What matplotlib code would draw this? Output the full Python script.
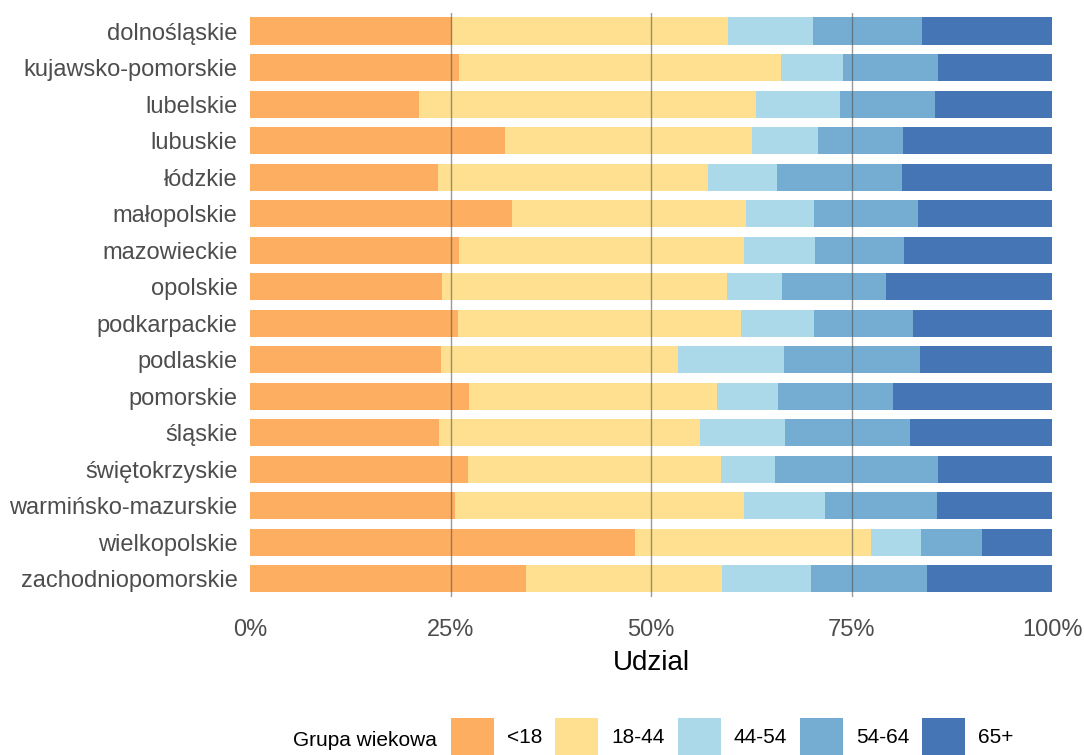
import numpy as np
import matplotlib
matplotlib.use('Agg')
import matplotlib.pyplot as plt
from matplotlib.patches import Patch
from matplotlib.ticker import PercentFormatter

# dane: udzial grup wiekowych (%) w wojewodztwach
wojewodztwa = [
    "dolnośląskie", "kujawsko-pomorskie", "lubelskie", "lubuskie", "łódzkie",
    "małopolskie", "mazowieckie", "opolskie", "podkarpackie", "podlaskie",
    "pomorskie", "śląskie", "świętokrzyskie", "warmińsko-mazurskie",
    "wielkopolskie", "zachodniopomorskie",
]
grupy = ["<18", "18-44", "44-54", "54-64", "65+"]

u18 = [25.2, 26.1, 21.1, 31.8, 23.4, 32.7, 26.1, 23.9, 25.9, 23.8, 27.3, 23.6, 27.2, 25.6, 48.0, 34.4]
g18_44 = [34.4, 40.1, 42.0, 30.8, 33.7, 29.1, 35.5, 35.6, 35.3, 29.6, 30.9, 32.5, 31.5, 36.0, 29.4, 24.5]
g44_54 = [10.6, 7.7, 10.5, 8.2, 8.6, 8.5, 8.8, 6.8, 9.1, 13.2, 7.6, 10.6, 6.8, 10.1, 6.3, 11.1]
g54_64 = [13.6, 11.9, 11.8, 10.6, 15.6, 13.0, 11.1, 13.0, 12.4, 16.9, 14.4, 15.6, 20.3, 14.0, 7.6, 14.4]
g65 = [100 - a - b - c - d for a, b, c, d in zip(u18, g18_44, g44_54, g54_64)]

kolory = ["#FDAE61", "#FEE090", "#ABD9E9", "#74ADD1", "#4575B4"]
font = "Liberation Sans"

fig = plt.figure(figsize=(10.84, 7.55), dpi=100)
ax = fig.add_axes([250 / 1084, 1 - 597 / 755, (1052 - 250) / 1084, (597 - 12.75) / 755])

y = np.arange(len(wojewodztwa))
left = np.zeros(len(wojewodztwa))
for seria, kolor, nazwa in zip([u18, g18_44, g44_54, g54_64, g65], kolory, grupy):
    ax.barh(y, seria, left=left, height=0.74, color=kolor, label=nazwa, zorder=1)
    left += np.array(seria)

# linie siatki na wierzchu
for xv in [25, 50, 75]:
    ax.axvline(xv, color="#555555", lw=1.0, alpha=0.6, zorder=3)

ax.set_xlim(0, 100)
ax.set_ylim(len(wojewodztwa) - 0.5, -0.5)
ax.set_yticks(y)
ax.set_yticklabels(wojewodztwa)
ax.set_xticks([0, 25, 50, 75, 100])
ax.xaxis.set_major_formatter(PercentFormatter(decimals=0))
ax.tick_params(axis="both", length=0, labelsize=17, labelcolor="#4D4D4D")
ax.tick_params(axis="y", pad=9)
ax.tick_params(axis="x", pad=16)
for lab in ax.get_xticklabels() + ax.get_yticklabels():
    lab.set_fontfamily(font)
for s in ax.spines.values():
    s.set_visible(False)
ax.set_xlabel("Udzial", fontsize=20, fontfamily=font, labelpad=6)

# legenda na dole
fig.text(293 / 1084, 1 - 741 / 755, "Grupa wiekowa", fontsize=15,
         fontfamily=font, va="center", ha="left")
uchwyty = [Patch(facecolor=k, label=g) for k, g in zip(kolory, grupy)]
fig.legend(handles=uchwyty, loc="center left", bbox_to_anchor=(451 / 1084, 1 - 737 / 755),
           ncol=5, frameon=False, borderpad=0, borderaxespad=0,
           handlelength=2.07, handleheight=2.39, handletextpad=0.62, columnspacing=0.62,
           prop={"family": font, "size": 15})

fig.savefig("out.png", dpi=100)
